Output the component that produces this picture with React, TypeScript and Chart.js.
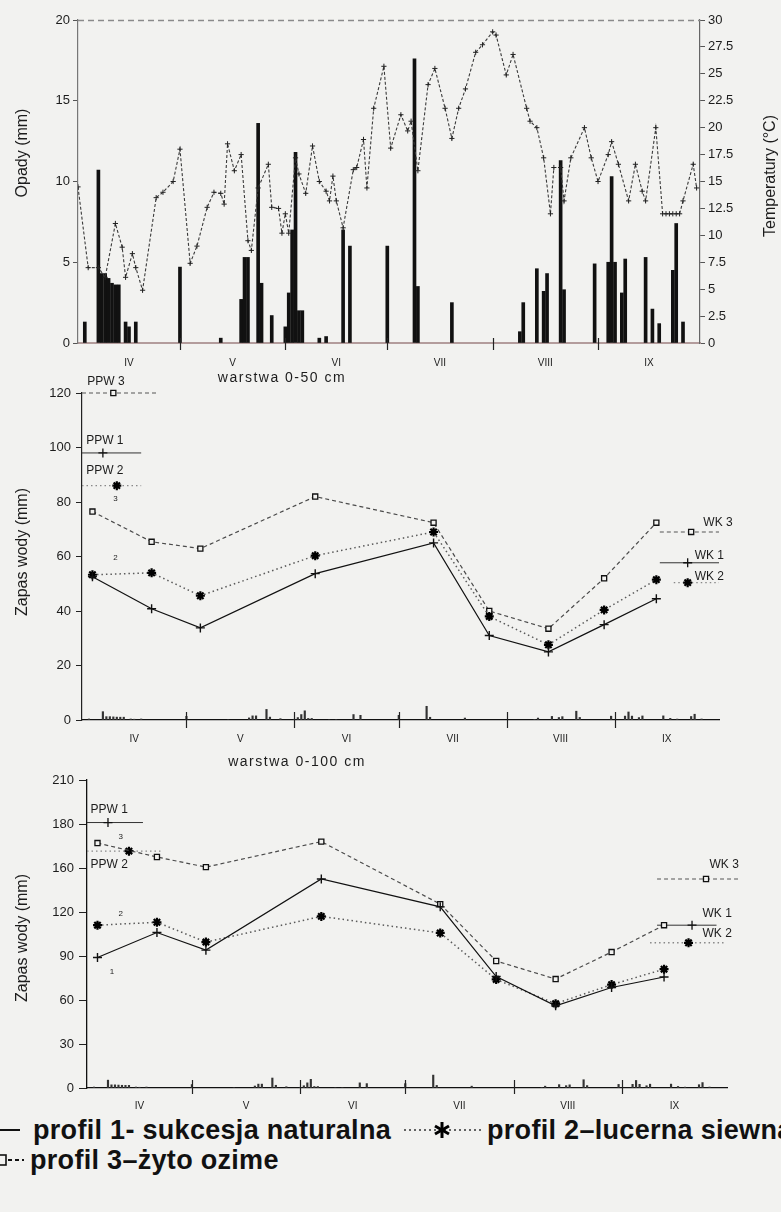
import React, { useEffect, useRef } from 'react';
import { Chart, registerables } from 'chart.js';
Chart.register(...registerables);

const FONT = '"Liberation Sans", Arial, sans-serif';
const INK = '#1c1c1c';
const BG = '#f2f2f0';

// ---- time axis (days from 1 April) ----
const monthLabels = ['IV', 'V', 'VI', 'VII', 'VIII', 'IX'];
const monthStarts = [0, 30, 61, 91, 122, 153, 183];
const monthMids = [15, 45.5, 76, 106.5, 137.5, 168];

// ---- top panel: daily precipitation (mm) ----
const rainDays = [2, 6, 7, 8, 9, 10, 11, 12, 14, 15, 17, 30, 42, 48, 49, 50, 53, 54, 57, 61, 62, 63, 64, 65, 66, 71, 73, 78, 80, 91, 99, 100, 110, 130, 131, 135, 137, 138, 142, 143, 152, 156, 157, 158, 160, 161, 167, 169, 171, 175, 176, 178];
const rainMm = [1.3, 10.7, 4.3, 4.3, 4.0, 3.7, 3.6, 3.6, 1.3, 1.0, 1.3, 4.7, 0.3, 2.7, 5.3, 5.3, 13.6, 3.7, 1.7, 1.0, 3.1, 7.0, 11.8, 2.0, 2.0, 0.3, 0.4, 7.0, 6.0, 6.0, 17.6, 3.5, 2.5, 0.7, 2.5, 4.6, 3.2, 4.3, 11.3, 3.3, 4.9, 5.0, 10.3, 5.0, 3.1, 5.2, 5.3, 2.1, 1.2, 4.5, 7.4, 1.3];

// ---- top panel: air temperature (°C) ----
const tempDays = [0, 3, 6, 8, 11, 13, 14, 16, 17, 19, 23, 25, 28, 30, 33, 35, 38, 40, 42, 43, 44, 46, 48, 50, 51, 53, 56, 57, 59, 60, 61, 62, 64, 65, 67, 69, 71, 73, 74, 75, 76, 78, 81, 82, 84, 85, 87, 90, 92, 95, 97, 98, 100, 103, 105, 108, 110, 112, 114, 117, 119, 122, 123, 126, 128, 132, 133, 135, 137, 139, 140, 142, 143, 145, 149, 151, 153, 156, 157, 159, 162, 164, 166, 167, 170, 172, 173, 174, 175, 176, 177, 178, 181, 182];
const tempC = [14.5, 7.0, 7.0, 6.1, 11.1, 8.9, 6.1, 8.3, 7.0, 4.9, 13.5, 14.0, 15.0, 18.0, 7.4, 9.0, 12.6, 14.0, 13.9, 12.9, 18.5, 16.0, 17.5, 9.5, 8.6, 14.4, 16.6, 12.6, 12.5, 10.2, 12.0, 10.2, 17.2, 15.7, 13.9, 18.3, 15.0, 14.1, 13.2, 15.5, 13.2, 10.7, 16.1, 16.3, 18.9, 14.4, 21.8, 25.7, 18.1, 21.2, 19.7, 20.6, 16.0, 24.0, 25.5, 21.8, 19.0, 21.8, 23.6, 27.0, 27.7, 28.9, 28.6, 24.9, 26.8, 21.8, 20.6, 20.0, 17.2, 12.0, 16.3, 16.3, 13.2, 17.2, 20.0, 17.2, 15.0, 17.5, 18.7, 16.6, 13.2, 16.6, 14.1, 13.2, 20.0, 12.0, 12.0, 12.0, 12.0, 12.0, 12.0, 13.2, 16.6, 14.4];

// ---- water storage: measurement dates ----
const measureDays = [3, 20, 34, 67, 101, 117, 134, 150, 165];
// layer 0-50 cm (mm)
const profil1_50 = [52.6, 40.8, 33.8, 53.7, 65, 31, 25, 35, 44.5];
const profil2_50 = [53.3, 54, 45.6, 60.3, 69, 38, 27.6, 40.4, 51.5];
const profil3_50 = [76.5, 65.4, 62.9, 82, 72.4, 40, 33.5, 52, 72.4];
const ppw_50 = [98, 86, 120]; // PPW1, PPW2, PPW3
const wk_50 = [57.7, 50.4, 69]; // WK1, WK2, WK3
// layer 0-100 cm (mm)
const profil1_100 = [89, 106, 94, 142.5, 123.5, 76, 56, 68.5, 75.7];
const profil2_100 = [111, 113, 99.5, 117, 105.7, 74, 57.5, 70.5, 81];
const profil3_100 = [167, 157.5, 150.6, 168, 125.4, 86.6, 74.3, 92.7, 111];
const ppw_100 = [181, 161.5]; // PPW1, PPW2
const wk_100 = [111, 99, 142.5]; // WK1, WK2, WK3

const pts = (xs: number[], ys: number[]) => xs.map((x, i) => ({ x, y: ys[i] }));

type Txt = {
  text: string; x?: number; y?: number; px?: number; py?: number;
  dx?: number; dy?: number; size?: number; rot?: boolean; align?: CanvasTextAlign; spacing?: number;
};

function overlay(texts: Txt[], o: { up: number; down: number; topLine?: boolean }) {
  return {
    id: 'overlay',
    afterDraw(chart: any) {
      const ctx = chart.ctx;
      const xs = chart.scales.x;
      const ys = chart.scales.y;
      const a = chart.chartArea;
      ctx.save();
      if (o.topLine) {
        ctx.strokeStyle = '#8a8a8a';
        ctx.lineWidth = 1.5;
        ctx.setLineDash([6, 4]);
        ctx.beginPath();
        ctx.moveTo(a.left, a.top + 0.5);
        ctx.lineTo(a.right, a.top + 0.5);
        ctx.stroke();
        ctx.setLineDash([]);
      }
      ctx.strokeStyle = '#222';
      ctx.lineWidth = 1.2;
      for (const d of monthStarts.slice(1, -1)) {
        const p = Math.round(xs.getPixelForValue(d)) + 0.5;
        ctx.beginPath();
        ctx.moveTo(p, a.bottom - o.up);
        ctx.lineTo(p, a.bottom + o.down);
        ctx.stroke();
      }
      for (const t of texts) {
        const x = (t.px ?? xs.getPixelForValue(t.x)) + (t.dx || 0);
        const y = (t.py ?? ys.getPixelForValue(t.y)) + (t.dy || 0);
        ctx.save();
        ctx.font = `${t.size || 12}px ${FONT}`;
        ctx.fillStyle = INK;
        ctx.textAlign = t.align || 'left';
        ctx.textBaseline = 'middle';
        (ctx as any).letterSpacing = `${t.spacing || 0}px`;
        ctx.translate(x, y);
        if (t.rot) ctx.rotate(-Math.PI / 2);
        ctx.fillText(t.text, 0, 0);
        ctx.restore();
      }
      ctx.restore();
    },
  };
}

const tickFont = { family: FONT, size: 13 };
const monthAxis = (padding: number, height: number, border: any) => ({
  type: 'linear',
  min: 0,
  max: 183,
  offset: false,
  grid: { display: false, offset: false },
  border,
  afterBuildTicks: (s: any) => { s.ticks = monthMids.map((v) => ({ value: v })); },
  afterFit: (s: any) => { s.height = height; },
  ticks: {
    autoSkip: false, maxRotation: 0, minRotation: 0, padding, color: INK,
    font: { family: FONT, size: 10 },
    callback: (_v: any, i: number) => monthLabels[i],
  },
});

const profileSets = (p1: number[], p2: number[], p3: number[]) => [
  { type: 'line', data: pts(measureDays, p1), borderColor: '#111', borderWidth: 1.2, pointStyle: 'cross', pointRadius: 4.5, pointBorderColor: '#111', pointBorderWidth: 1.4, clip: false, order: 1 },
  { type: 'line', data: pts(measureDays, p2), borderColor: '#5a5a5a', borderWidth: 1.5, borderDash: [1.5, 3], pointStyle: 'star', pointRadius: 4.5, pointBorderColor: '#000', pointBorderWidth: 2.2, clip: false, order: 1 },
  { type: 'line', data: pts(measureDays, p3), borderColor: '#4a4a4a', borderWidth: 1.2, borderDash: [4, 3], pointStyle: 'rect', pointRadius: 3.6, pointBackgroundColor: BG, pointBorderColor: '#111', pointBorderWidth: 1.3, clip: false, order: 1 },
];

const refLine = (days: number[], value: number, marker: number, kind: number) => {
  const style = kind === 1
    ? { borderColor: '#333', borderWidth: 1, pointStyle: 'cross', pointBorderColor: '#111', pointBorderWidth: 1.3 }
    : kind === 2
      ? { borderColor: '#888', borderWidth: 1.4, borderDash: [1.5, 3], pointStyle: 'star', pointBorderColor: '#000', pointBorderWidth: 2.2 }
      : { borderColor: '#555', borderWidth: 1.1, borderDash: [4, 3], pointStyle: 'rect', pointBackgroundColor: BG, pointBorderColor: '#111', pointBorderWidth: 1.3 };
  return {
    type: 'line',
    data: days.map((d) => ({ x: d, y: value })),
    pointRadius: days.map((_, i) => (i === marker ? (kind === 3 ? 3.6 : 4.5) : 0)),
    clip: false,
    order: 1,
    ...style,
  };
};

const rainSpikes = {
  type: 'bar', yAxisID: 'yr', data: pts(rainDays, rainMm), backgroundColor: '#333', barThickness: 1.5, order: 2,
};

const baseOpts = (padding: any) => ({
  responsive: false,
  animation: false,
  devicePixelRatio: 1,
  layout: { padding },
  plugins: { legend: { display: false }, tooltip: { enabled: false } },
});

function buildTop() {
  return {
    type: 'bar',
    data: {
      datasets: [
        { type: 'line', yAxisID: 'y2', data: pts(tempDays, tempC), borderColor: '#3a3a3a', borderWidth: 1.1, borderDash: [3, 2], pointStyle: 'cross', pointRadius: 2.6, pointBorderColor: '#222', pointBorderWidth: 1, order: 1 },
        { type: 'bar', yAxisID: 'y', data: pts(rainDays, rainMm), backgroundColor: '#111', barThickness: 3, order: 2 },
      ],
    },
    options: {
      ...baseOpts({ top: 20, left: 0, right: 0, bottom: 0 }),
      scales: {
        x: monthAxis(6, 29, { display: true, color: '#b39c9c', width: 2, dash: [3, 2] }),
        y: {
          position: 'left', min: 0, max: 20,
          ticks: { stepSize: 5, padding: 3, color: INK, font: tickFont },
          grid: { drawOnChartArea: false, tickLength: 5, color: '#555' },
          border: { color: '#777', dash: [5, 2], width: 1.2 },
          afterFit: (s: any) => { s.width = 78; },
        },
        y2: {
          position: 'right', min: 0, max: 30,
          ticks: { stepSize: 2.5, padding: 3, color: INK, font: tickFont },
          grid: { drawOnChartArea: false, tickLength: 5, color: '#555' },
          border: { color: '#666', dash: [6, 2], width: 1.2 },
          afterFit: (s: any) => { s.width = 81; },
        },
      },
    },
    plugins: [overlay([
      { text: 'Opady (mm)', px: 23, py: 153, rot: true, size: 16, align: 'center' },
      { text: 'Temperatury (°C)', px: 771, py: 176, rot: true, size: 16, align: 'center' },
    ], { up: 5, down: 7, topLine: true })],
  };
}

function buildMid() {
  return {
    type: 'bar',
    data: {
      datasets: [
        ...profileSets(profil1_50, profil2_50, profil3_50),
        refLine([0, 9, 22], ppw_50[2], 1, 3),
        refLine([0, 6, 17], ppw_50[0], 1, 1),
        refLine([0, 10, 17], ppw_50[1], 1, 2),
        refLine([166, 175, 183], wk_50[2], 1, 3),
        refLine([166, 174, 183], wk_50[0], 1, 1),
        refLine([170, 174, 183], wk_50[1], 1, 2),
        rainSpikes,
      ],
    },
    options: {
      ...baseOpts({ top: 27, left: 0, right: 62, bottom: 0 }),
      scales: {
        x: monthAxis(5, 32, { display: true, color: '#111', width: 1.2 }),
        y: {
          position: 'left', min: 0, max: 120,
          ticks: { stepSize: 20, padding: 5, color: INK, font: tickFont },
          grid: { drawOnChartArea: false, tickLength: 6, color: '#222' },
          border: { color: '#222', dash: [6, 2], width: 1.2 },
          afterFit: (s: any) => { s.width = 82; },
        },
        yr: { display: false, min: 0, max: 420 },
      },
    },
    plugins: [overlay([
      { text: 'Zapas wody (mm)', px: 23, py: 186, rot: true, size: 16, align: 'center' },
      { text: 'warstwa 0-50 cm', px: 282, py: 12, size: 14, align: 'center', spacing: 1.5 },
      { text: 'PPW 3', x: 1.5, y: ppw_50[2], dy: -11, size: 12 },
      { text: 'PPW 1', x: 1.2, y: ppw_50[0], dy: -12, size: 12 },
      { text: 'PPW 2', x: 1.2, y: ppw_50[0], dy: 18, size: 12 },
      { text: '3', x: 9, y: ppw_50[1], dy: 13, size: 8 },
      { text: '2', x: 9, y: 59.5, size: 8 },
      { text: 'WK 3', x: 178.5, y: wk_50[2], dy: -9, size: 12 },
      { text: 'WK 1', x: 176, y: wk_50[0], dy: -7, size: 12 },
      { text: 'WK 2', x: 176, y: wk_50[1], dy: -6, size: 12 },
    ], { up: 8, down: 8 })],
  };
}

function buildBottom() {
  return {
    type: 'bar',
    data: {
      datasets: [
        ...profileSets(profil1_100, profil2_100, profil3_100),
        refLine([0, 6, 16], ppw_100[0], 1, 1),
        refLine([0, 12, 21], ppw_100[1], 1, 2),
        refLine([163, 177, 187], wk_100[2], 1, 3),
        refLine([163, 173, 180], wk_100[0], 1, 1),
        refLine([161, 172, 182], wk_100[1], 1, 2),
        rainSpikes,
      ],
    },
    options: {
      ...baseOpts({ top: 28, left: 0, right: 54, bottom: 0 }),
      scales: {
        x: monthAxis(4, 27, { display: true, color: '#111', width: 1.2 }),
        y: {
          position: 'left', min: 0, max: 210,
          ticks: {
            stepSize: 30, padding: 5, color: INK, font: tickFont,
            callback: (v: number) => (v === 150 ? '160' : String(v)),
          },
          grid: { drawOnChartArea: false, tickLength: 8, color: '#222' },
          border: { color: '#111', width: 1.3 },
          afterFit: (s: any) => { s.width = 87; },
        },
        yr: { display: false, min: 0, max: 420 },
      },
    },
    plugins: [overlay([
      { text: 'Zapas wody (mm)', px: 23, py: 186, rot: true, size: 16, align: 'center' },
      { text: 'warstwa 0-100 cm', px: 297, py: 10, size: 14, align: 'center', spacing: 1.5 },
      { text: 'PPW 1', x: 1, y: ppw_100[0], dy: -13, size: 12 },
      { text: 'PPW 2', x: 1, y: ppw_100[1], dy: 14, size: 12 },
      { text: '3', x: 9, y: 171, size: 8 },
      { text: '2', x: 9, y: 119, size: 8 },
      { text: '1', x: 6.5, y: 79, size: 8 },
      { text: 'WK 3', x: 178, y: wk_100[2], dy: -14, size: 12 },
      { text: 'WK 1', x: 176, y: wk_100[0], dy: -12, size: 12 },
      { text: 'WK 2', x: 176, y: wk_100[0], dy: 8, size: 12 },
    ], { up: 8, down: 6 })],
  };
}

function ChartBox({ top, height, build }: { top: number; height: number; build: () => any }) {
  const ref = useRef<HTMLCanvasElement>(null);
  useEffect(() => {
    const c = new Chart(ref.current as HTMLCanvasElement, build());
    return () => c.destroy();
  }, []);
  return (
    <div style={{ position: 'absolute', left: 0, top, width: 781, height }}>
      <canvas ref={ref} width={781} height={height} style={{ display: 'block' }} />
    </div>
  );
}

const legendText: React.CSSProperties = {
  position: 'absolute', whiteSpace: 'nowrap', fontFamily: '"Liberation Sans Narrow", "Liberation Sans", Arial, sans-serif',
  fontWeight: 700, fontSize: 27, lineHeight: '28px', letterSpacing: '0.3px', color: '#111',
};

export default function App() {
  return (
    <div style={{ position: 'absolute', left: 0, top: 0, width: 781, height: 1212, background: BG, overflow: 'hidden' }}>
      <ChartBox top={0} height={372} build={buildTop} />
      <ChartBox top={366} height={386} build={buildMid} />
      <ChartBox top={752} height={363} build={buildBottom} />
      <svg style={{ position: 'absolute', left: 0, top: 1120 }} width={24} height={20}>
        <line x1={0} y1={10} x2={20} y2={10} stroke="#111" strokeWidth={2} />
      </svg>
      <div style={{ ...legendText, left: 33, top: 1116 }}>profil 1- sukcesja naturalna</div>
      <svg style={{ position: 'absolute', left: 404, top: 1118 }} width={80} height={24}>
        <line x1={0} y1={12} x2={80} y2={12} stroke="#333" strokeWidth={1.5} strokeDasharray="2 3" />
        <g stroke="#000" strokeWidth={3}>
          <line x1={38} y1={4} x2={38} y2={20} />
          <line x1={31} y1={8} x2={45} y2={16} />
          <line x1={31} y1={16} x2={45} y2={8} />
        </g>
      </svg>
      <div style={{ ...legendText, left: 487, top: 1116 }}>profil 2–lucerna siewna</div>
      <svg style={{ position: 'absolute', left: 0, top: 1150 }} width={26} height={20}>
        <rect x={-4} y={5} width={10} height={10} fill="none" stroke="#111" strokeWidth={1.6} />
        <line x1={8} y1={10} x2={24} y2={10} stroke="#111" strokeWidth={1.8} strokeDasharray="4 3" />
      </svg>
      <div style={{ ...legendText, left: 30, top: 1146 }}>profil 3–żyto ozime</div>
    </div>
  );
}
